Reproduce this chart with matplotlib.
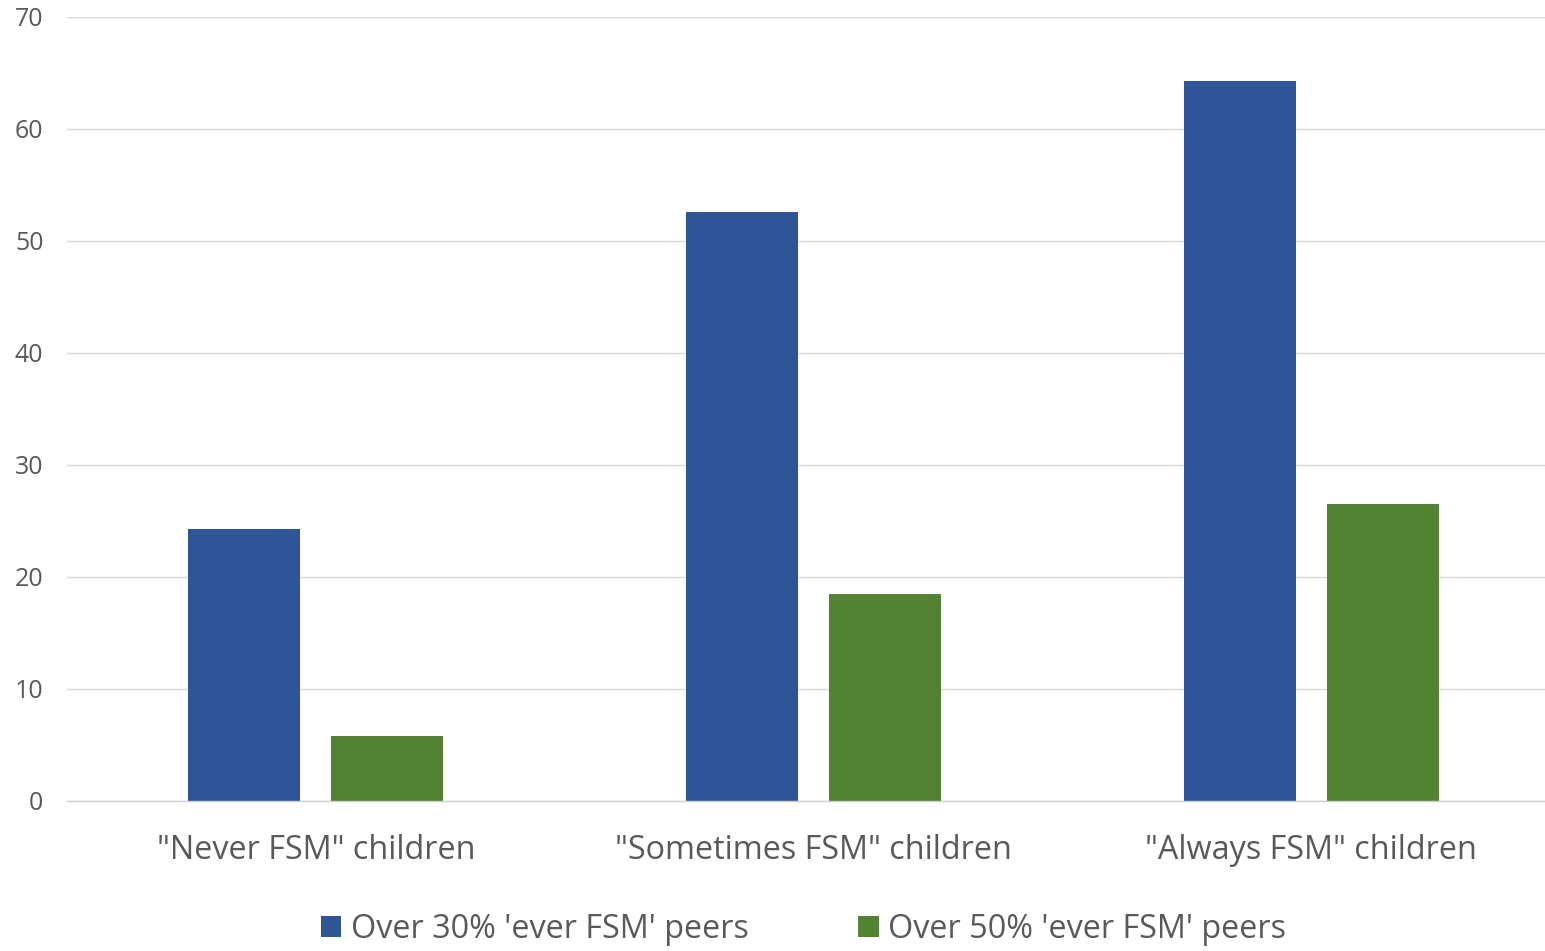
import matplotlib
matplotlib.use("Agg")
import matplotlib.pyplot as plt
import numpy as np

categories = ['"Never FSM" children', '"Sometimes FSM" children', '"Always FSM" children']
series_names = ["Over 30% 'ever FSM' peers", "Over 50% 'ever FSM' peers"]
over_30 = [24.3, 52.6, 64.3]
over_50 = [5.8, 18.5, 26.5]
yticks = [0, 10, 20, 30, 40, 50, 60, 70]

BLUE = "#2F5597"
GREEN = "#548235"
TEXT = "#595959"

plt.rcParams['font.family'] = ['Open Sans', 'DejaVu Sans']

fig = plt.figure(figsize=(15.45, 9.51), dpi=100)
ax = fig.add_axes([67 / 1545, 150 / 951, (1560 - 67) / 1545, 784 / 951])

x = np.arange(len(categories))
w = 0.225
off = 0.1437
ax.bar(x - off, over_30, width=w, color=BLUE, label=series_names[0], zorder=3)
ax.bar(x + off, over_50, width=w, color=GREEN, label=series_names[1], zorder=3)

ax.set_xlim(-0.5, 2.5)
ax.set_ylim(0, 70)
ax.set_yticks(yticks)
ax.set_yticklabels([str(t) for t in yticks], fontsize=18, color=TEXT)
ax.set_xticks(x)
ax.set_xticklabels(categories, fontsize=23.3, color=TEXT)
ax.tick_params(axis='both', length=0)
ax.tick_params(axis='y', pad=17)
ax.tick_params(axis='x', pad=24)
ax.grid(axis='y', color='#d9d9d9', linewidth=1.0, zorder=0)
for s in ['top', 'right', 'left']:
    ax.spines[s].set_visible(False)
ax.spines['bottom'].set_color('#d0d0d0')
ax.spines['bottom'].set_linewidth(1.0)
ax.spines['bottom'].set_zorder(4)

fig.legend(loc='lower center', bbox_to_anchor=(803.5 / 1545, 0.0), ncol=2,
           frameon=False, fontsize=23.3, labelcolor=TEXT,
           handlelength=0.62, handleheight=0.62, handletextpad=0.28,
           columnspacing=3.4, borderpad=0.05, borderaxespad=0.1)

fig.savefig("out.png", dpi=100)
